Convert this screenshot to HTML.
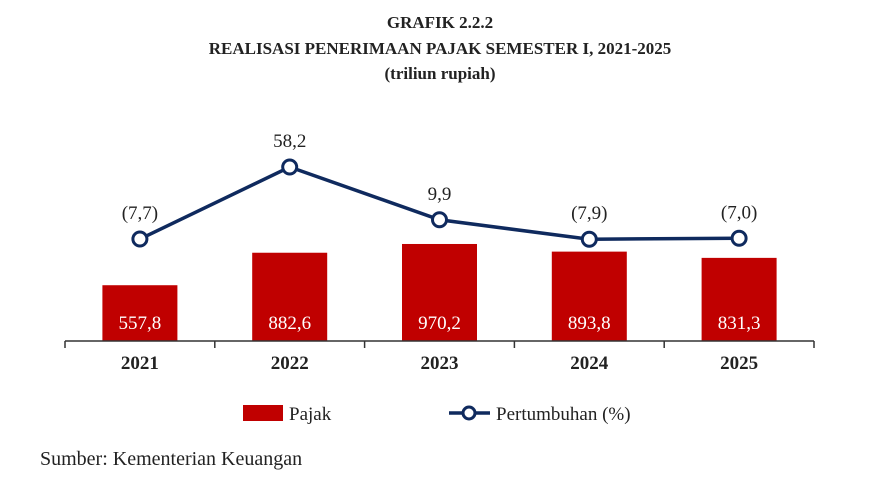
<!DOCTYPE html>
<html><head><meta charset="utf-8"><style>
body{margin:0;background:#fff;width:881px;height:481px;overflow:hidden;font-family:"Liberation Serif",serif}
</style></head><body>
<svg width="881" height="481" xmlns="http://www.w3.org/2000/svg" font-family="Liberation Serif, serif">
<g font-weight="bold" font-size="17" text-anchor="middle" fill="#222">
<text x="440" y="28">GRAFIK  2.2.2</text>
<text x="440" y="54">REALISASI PENERIMAAN PAJAK SEMESTER I, 2021-2025</text>
<text x="440" y="79">(triliun rupiah)</text>
</g>
<g id="bars"></g>
<g id="axis"></g>
<g id="line"></g>
<g>
<rect x="243" y="405" width="40" height="16" fill="#c00000"/>
<text x="289" y="420" font-size="19" fill="#222">Pajak</text>
<line x1="449" y1="413" x2="490" y2="413" stroke="#0f2a5e" stroke-width="3.5"/>
<circle cx="469" cy="413" r="6" fill="#fff" stroke="#0f2a5e" stroke-width="3"/>
<text x="496" y="420" font-size="19" fill="#222">Pertumbuhan (%)</text>
</g>
<text x="40" y="465" font-size="20" fill="#222">Sumber: Kementerian Keuangan</text>
</svg>
<script>
const categories=["2021","2022","2023","2024","2025"];
const pajak=[557.8,882.6,970.2,893.8,831.3];
const growth=[-7.7,58.2,9.9,-7.9,-7.0];
const NS="http://www.w3.org/2000/svg";
const x0=65,step=149.8,base=341;
function xC(i){return x0+step*(i+0.5);}
function yBar(v){return base-v*0.1;}
function yLine(v){return 230.6-v*1.093;}
function fmt(v){const s=Math.abs(v).toFixed(1).replace('.',',');return v<0?'('+s+')':s;}
function mk(tag,attrs,parent){const e=document.createElementNS(NS,tag);for(const k in attrs)e.setAttribute(k,attrs[k]);parent.appendChild(e);return e;}
const bars=document.getElementById('bars'),axis=document.getElementById('axis'),line=document.getElementById('line');
pajak.forEach((v,i)=>{
 const r=mk('rect',{x:xC(i)-37.5,y:yBar(v),width:75,height:base-yBar(v),fill:'#c00000'},bars);
 
 
 const t=mk('text',{x:xC(i),y:329,'text-anchor':'middle','font-size':19,fill:'#fff'},bars);
 t.textContent=fmt(v);
 
 
});
const ax=mk('line',{x1:x0,y1:base,x2:x0+step*5,y2:base,stroke:'#333','stroke-width':1.5},axis);


for(let i=0;i<=5;i++){const tk=mk('line',{x1:x0+step*i,y1:base,x2:x0+step*i,y2:base+7,stroke:'#333','stroke-width':1.5},axis);
 
 }
categories.forEach((c,i)=>{const t=mk('text',{x:xC(i),y:369,'text-anchor':'middle','font-size':19,'font-weight':'bold',fill:'#222'},axis);t.textContent=c;
 
 });
const pl=mk('polyline',{points:growth.map((v,i)=>xC(i)+','+yLine(v)).join(' '),fill:'none',stroke:'#0f2a5e','stroke-width':3.5},line);


growth.forEach((v,i)=>{
 const c=mk('circle',{cx:xC(i),cy:yLine(v),r:7,fill:'#fff',stroke:'#0f2a5e','stroke-width':3},line);
 
 
 const t=mk('text',{x:xC(i),y:yLine(v)-20,'text-anchor':'middle','font-size':19,fill:'#222'},line);
 t.textContent=fmt(v);
 
 
});
</script>
</body></html>
